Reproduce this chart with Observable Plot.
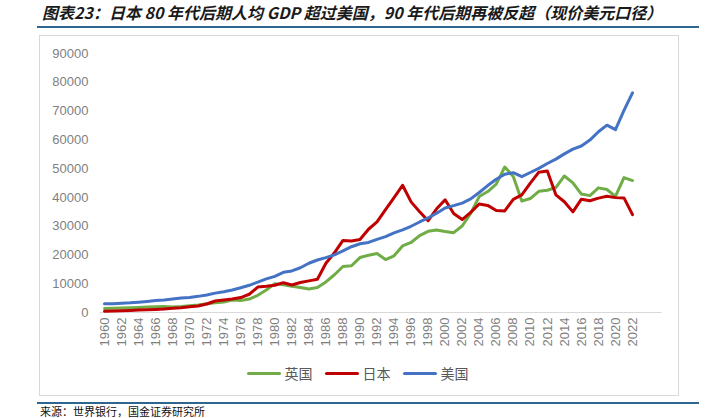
<!DOCTYPE html>
<html>
<head>
<meta charset="utf-8">
<script src="https://cdn.jsdelivr.net/npm/d3@7"></script>
<script src="https://cdn.jsdelivr.net/npm/@observablehq/plot@0.6"></script>
<style>
  html, body { margin: 0; padding: 0; background: #fff; }
  #wrap { position: relative; width: 711px; height: 418px; overflow: hidden; background: #fff; }
  #title { position: absolute; left: 42px; top: 2px; font-family: "Noto Sans CJK SC", sans-serif; font-weight: bold; font-style: italic; font-size: 16px; letter-spacing: 0px; color: #1a1a1a; white-space: nowrap; line-height: 21px; }
  .hline { position: absolute; left: 37px; width: 662px; height: 2px; background: #2f6690; }
  #box { position: absolute; left: 39px; top: 35px; width: 638px; height: 359px; border: 1px solid #d9d9d9; box-sizing: content-box; }
  #plot { position: absolute; left: 39px; top: 35px; }
  #legend { position: absolute; left: 0; width: 711px; top: 363px; display: flex; justify-content: center; padding-left: 4px; box-sizing: border-box; font-family: "Noto Sans CJK SC", sans-serif; font-size: 14px; color: #595959; }
  .item { display: flex; align-items: center; margin: 0 6px; }
  .sw { width: 34px; height: 3px; border-radius: 2px; margin-right: 4px; }
  #source { position: absolute; left: 40px; top: 405px; font-family: "Noto Sans CJK SC", sans-serif; font-size: 11px; line-height: 12px; color: #111; white-space: nowrap; }
</style>
</head>
<body>
<div id="wrap">
  <div id="title">图表23：日本 80 年代后期人均 GDP 超过美国，90 年代后期再被反超（现价美元口径）</div>
  <div class="hline" style="top:26px"></div>
  <div id="box"></div>
  <div id="plot"></div>
  <div id="legend"></div>
  <div class="hline" style="top:402px"></div>
  <div id="source">来源：世界银行，国金证券研究所</div>
</div>
<script>
const years = [1960,1961,1962,1963,1964,1965,1966,1967,1968,1969,
  1970,1971,1972,1973,1974,1975,1976,1977,1978,1979,
  1980,1981,1982,1983,1984,1985,1986,1987,1988,1989,
  1990,1991,1992,1993,1994,1995,1996,1997,1998,1999,
  2000,2001,2002,2003,2004,2005,2006,2007,2008,2009,
  2010,2011,2012,2013,2014,2015,2016,2017,2018,2019,
  2020,2021,2022];

const uk = [1398,1472,1526,1613,1748,1874,1980,2058,1951,2100,
  2348,2649,3030,3426,3666,4300,4139,4681,5977,7804,
  10032,9599,9146,8691,8180,8652,10612,13118,15987,16240,
  19095,19901,20487,18389,19709,23123,24332,26734,28214,28670,
  28150,27744,30057,34420,40290,42030,44599,50566,47287,38713,
  39599,42110,42497,43426,47440,45071,41146,40618,43306,42747,
  40318,46870,45850];

const japan = [475,563,633,717,835,919,1058,1229,1450,1669,
  2037,2272,2967,3997,4354,4659,5197,6335,8821,9105,
  9463,10361,9578,10425,10984,11577,17112,20745,25052,24823,
  25371,28925,31465,35766,39934,44198,38437,35022,31903,36027,
  39169,34406,32289,34808,37689,37218,35434,35275,39339,40855,
  44968,48760,49145,40898,38475,34961,39375,38834,39751,40416,
  39918,39827,34017];

const us = [3007,3067,3244,3375,3574,3828,4146,4336,4696,5032,
  5234,5609,6094,6726,7226,7801,8592,9453,10565,11674,
  12575,13976,14434,15544,17121,18237,19071,20039,21417,22857,
  23889,24342,25419,26387,27695,28691,29968,31459,32854,34515,
  36330,37134,38023,39496,41712,44115,46299,48050,48570,47195,
  48651,50066,51784,53291,55124,56763,57867,59915,62805,65095,
  63528,70219,76330];

const seriesNames = ["英国", "日本", "美国"];
const seriesColors = ["#70ad47", "#c00000", "#4472c4"];
const seriesValues = [uk, japan, us];
const xTicks = [1960,1962,1964,1966,1968,1970,1972,1974,1976,1978,1980,1982,1984,1986,1988,1990,1992,1994,1996,1998,2000,2002,2004,2006,2008,2010,2012,2014,2016,2018,2020,2022];
const yTicks = [0,10000,20000,30000,40000,50000,60000,70000,80000,90000];

const data = [];
seriesNames.forEach((name, i) => {
  years.forEach((yr, j) => data.push({series: name, year: yr, value: seriesValues[i][j]}));
});

const chart = Plot.plot({
  width: 639,
  height: 322,
  marginLeft: 65,
  marginRight: 46,
  marginTop: 18,
  marginBottom: 45,
  style: {fontFamily: "'Liberation Sans', Arial, sans-serif", fontSize: "13px", color: "#7f7f7f", background: "transparent"},
  x: {domain: [1960, 2022]},
  y: {domain: [0, 90000]},
  color: {domain: seriesNames, range: seriesColors},
  marks: [
    Plot.ruleY([0], {x1: 1959.5, x2: 2025.5, stroke: "#d9d9d9", strokeWidth: 1}),
    Plot.axisY({ticks: yTicks, tickSize: 0, tickPadding: 16, tickFormat: d3.format("d"), label: null, fontSize: 13, fill: "#7f7f7f"}),
    Plot.axisX({ticks: xTicks, tickSize: 0, tickPadding: 5, tickRotate: -90, tickFormat: d => String(d), label: null, fontSize: 13, fill: "#7f7f7f"}),
    Plot.line(data, {x: "year", y: "value", z: "series", stroke: "series", strokeWidth: 3, strokeLinejoin: "round", strokeLinecap: "round"})
  ]
});
document.getElementById("plot").appendChild(chart);

const legend = document.getElementById("legend");
seriesNames.forEach((name, i) => {
  const it = document.createElement("div");
  it.className = "item";
  const sw = document.createElement("div");
  sw.className = "sw";
  sw.style.background = seriesColors[i];
  const tx = document.createElement("span");
  tx.textContent = name;
  it.appendChild(sw); it.appendChild(tx);
  legend.appendChild(it);
});
</script>
</body>
</html>
